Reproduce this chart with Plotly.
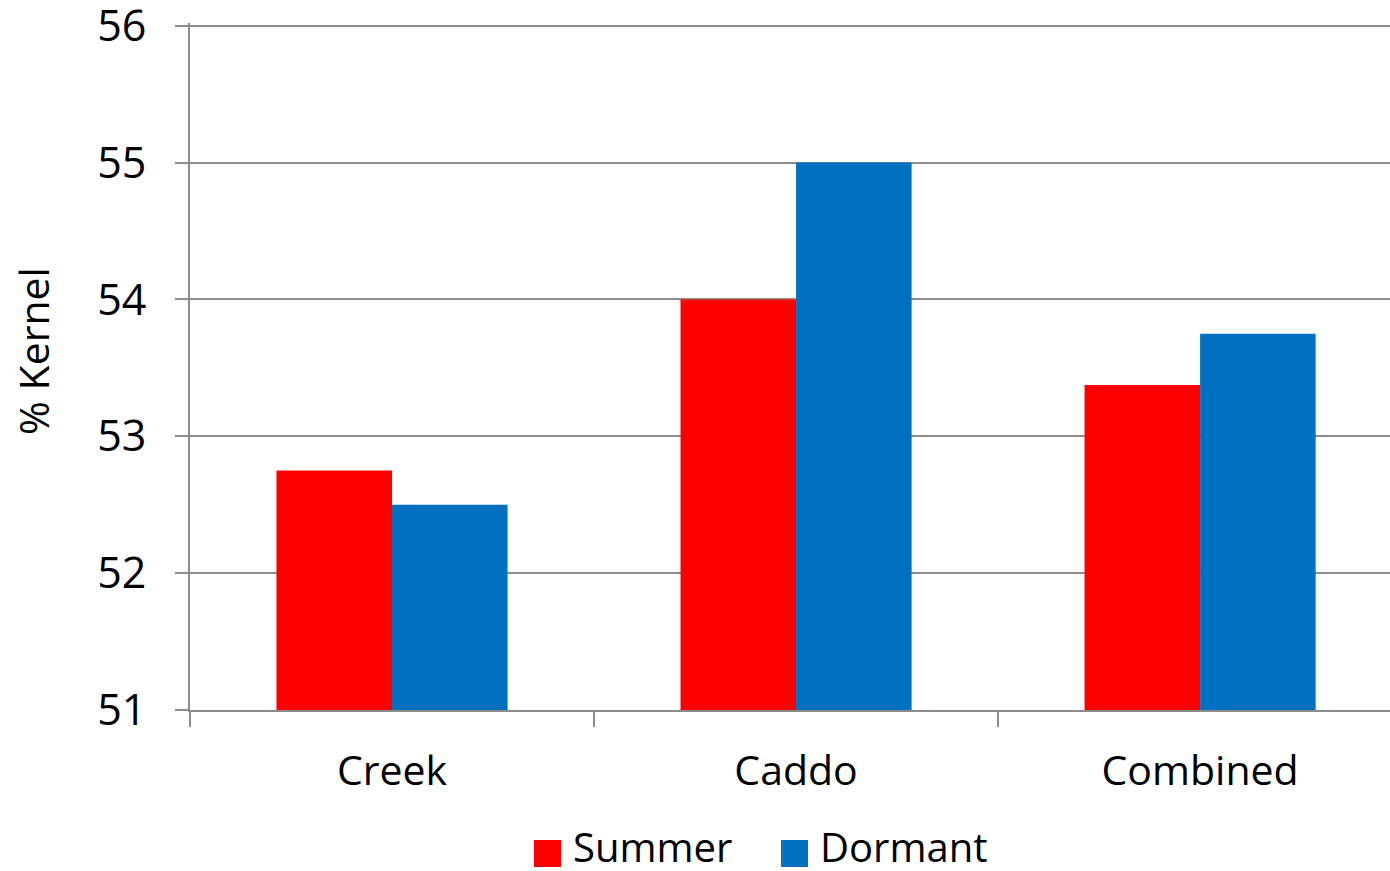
import plotly.graph_objects as go

# Kernel percentage by site and harvest season
sites = ["Creek", "Caddo", "Combined"]
summer = [52.75, 54.0, 53.375]
dormant = [52.5, 55.0, 53.75]
y_ticks = [51, 52, 53, 54, 55, 56]
BASE = 51

RED = "#ff0000"
BLUE = "#0070c0"
GRID = "#8c8c8c"
FONT = "Open Sans, Liberation Sans, sans-serif"

fig = go.Figure()
fig.add_trace(go.Bar(name="Summer", x=sites, y=[v - BASE for v in summer], base=BASE,
                     marker=dict(color=RED, line=dict(width=0))))
fig.add_trace(go.Bar(name="Dormant", x=sites, y=[v - BASE for v in dormant], base=BASE,
                     marker=dict(color=BLUE, line=dict(width=0))))

# plot area: 1 unit on the value axis ~ 136.8 px
fig.update_layout(
    width=1390, height=871,
    margin=dict(l=190, r=0, t=23, b=161, autoexpand=False),
    paper_bgcolor="white", plot_bgcolor="white",
    barmode="group", bargap=0.428, bargroupgap=0,
    showlegend=False,
    font=dict(family=FONT, color="black", size=41),
)
fig.update_yaxes(
    range=[51, 56.02], tickvals=y_ticks, ticktext=[str(t) for t in y_ticks],
    automargin=False,
    showgrid=True, gridcolor=GRID, gridwidth=2,
    showline=True, linecolor=GRID, linewidth=2,
    ticks="outside", ticklen=13, tickwidth=2, tickcolor=GRID,
    ticklabelstandoff=20,
    ticklabeloverflow="allow",
    tickfont=dict(size=43, family=FONT),
    zeroline=False,
)
fig.update_xaxes(
    range=[-0.5, 2.47],
    automargin=False,
    showline=True, linecolor=GRID, linewidth=2,
    ticks="outside", ticklen=15, tickwidth=2, tickcolor=GRID,
    tickson="boundaries",
    tickfont=dict(size=41, family=FONT),
    ticklabelstandoff=24,
)

H = 687  # plot-area height in px
Y0 = 710  # px position of the value-axis baseline


def py(pixel_y):
    return (Y0 - pixel_y) / H


def px_(pixel_x):
    return (pixel_x - 190) / 1200


# Axis title, placed beside the value axis
fig.add_annotation(xref="paper", yref="paper", x=px_(33), y=py(351),
                   text="% Kernel", textangle=-90, showarrow=False,
                   xanchor="center", yanchor="middle",
                   font=dict(size=41, family=FONT, color="black"))

# Legend drawn below the plot: swatches and labels
legend_items = [("Summer", RED, 534), ("Dormant", BLUE, 781)]
for label, color, lx in legend_items:
    fig.add_shape(type="rect", xref="paper", yref="paper",
                  x0=px_(lx), x1=px_(lx + 27),
                  y0=py(867), y1=py(840),
                  fillcolor=color, line=dict(width=0))
    fig.add_annotation(xref="paper", yref="paper", x=px_(lx + 37),
                       y=py(846), text=label, showarrow=False,
                       xanchor="left", yanchor="middle",
                       font=dict(size=40, family=FONT, color="black"))

fig.write_html("out.html")
